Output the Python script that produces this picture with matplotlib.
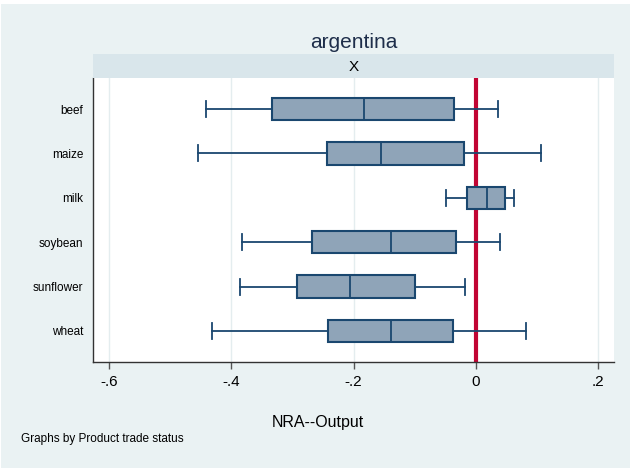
import matplotlib.pyplot as plt
from matplotlib.patches import Rectangle

plt.rcParams['font.family'] = ['Liberation Sans', 'DejaVu Sans']

# box summaries of NRA--Output by product (Stata-style: whisker ends, quartiles, median)
products = ["beef", "maize", "milk", "soybean", "sunflower", "wheat"]
whislo = [-0.442, -0.455, -0.049, -0.382, -0.386, -0.431]
q1 = [-0.333, -0.244, -0.014, -0.268, -0.292, -0.241]
med = [-0.183, -0.155, 0.018, -0.138, -0.206, -0.139]
q3 = [-0.036, -0.020, 0.048, -0.033, -0.099, -0.037]
whishi = [0.036, 0.106, 0.062, 0.040, -0.018, 0.082]

xticks = [-0.6, -0.4, -0.2, 0, 0.2]
xticklabels = ["-.6", "-.4", "-.2", "0", ".2"]

bg = "#EAF2F3"
strip = "#D9E6EB"
navy = "#1A476F"
fill = "#8FA4B8"
red = "#C10534"

W, H = 630, 468
fig = plt.figure(figsize=(W / 100, H / 100), dpi=100)
fig.patch.set_facecolor("white")
fig.patches.append(Rectangle((1 / W, 0), 1, 1 - 4 / H, transform=fig.transFigure,
                             facecolor=bg, edgecolor="none", zorder=-10))

left, right, top, bottom = 93, 614, 78, 362
ax = fig.add_axes([left / W, 1 - bottom / H, (right - left) / W, (bottom - top) / H])
ax.set_facecolor("white")

stats = []
for i, p in enumerate(products):
    stats.append(dict(label=p, whislo=whislo[i], q1=q1[i], med=med[i],
                      q3=q3[i], whishi=whishi[i], fliers=[]))

pos = list(range(1, len(products) + 1))
ax.axvline(0, color=red, lw=3, zorder=1)
ax.bxp(stats, positions=pos, widths=0.5, capwidths=0.36, orientation="horizontal",
       patch_artist=True, showfliers=False,
       boxprops=dict(facecolor=fill, edgecolor=navy, linewidth=1.5),
       medianprops=dict(color=navy, linewidth=1.3),
       whiskerprops=dict(color=navy, linewidth=1.3),
       capprops=dict(color=navy, linewidth=1.3),
       zorder=3)

ax.set_ylim(6.7, 0.3)
ax.set_xlim(-0.626, 0.226)
ax.set_yticks(pos)
ax.set_yticklabels(products, fontsize=8.5)
ax.tick_params(axis="y", length=0, pad=7)
ax.set_xticks(xticks)
ax.set_xticklabels(xticklabels, fontsize=11)
ax.tick_params(axis="x", length=5, width=1, color="#555555", pad=4)
ax.grid(axis="x", color="#E4EDEF", lw=1, zorder=0)
ax.set_axisbelow(True)
for s in ["top", "right"]:
    ax.spines[s].set_visible(False)
for s in ["left", "bottom"]:
    ax.spines[s].set_color("#333333")
    ax.spines[s].set_linewidth(1)

# facet strip above the plot
sax = fig.add_axes([left / W, 1 - 78 / H, (right - left) / W, 24 / H])
sax.set_facecolor(strip)
sax.set_xticks([])
sax.set_yticks([])
for s in sax.spines.values():
    s.set_visible(False)
sax.text(0.5, 0.45, "X", ha="center", va="center", fontsize=11, transform=sax.transAxes)

fig.text((left + right) / 2 / W, 1 - 43 / H, "argentina", ha="center", va="center",
         fontsize=15, color="#1E2E4A")
fig.text(318 / W, 1 - 422 / H, "NRA--Output", ha="center", va="center", fontsize=11.5)
fig.text(21 / W, 1 - 439 / H, "Graphs by Product trade status", ha="left", va="center",
         fontsize=8.5)

fig.savefig("out.png", dpi=100, facecolor=fig.get_facecolor())
